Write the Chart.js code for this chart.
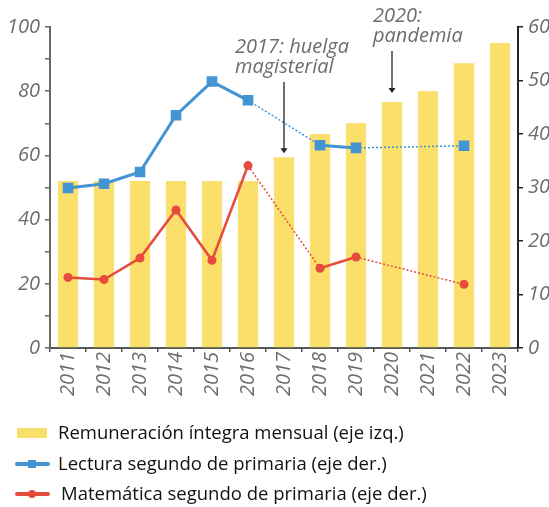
<!DOCTYPE html>
<html lang="es">
<head>
<meta charset="utf-8">
<title>Remuneración y logros</title>
<script src="https://cdn.jsdelivr.net/npm/chart.js@4.4.1/dist/chart.umd.min.js"></script>
<style>
  html, body { margin: 0; padding: 0; background: #fff; overflow: hidden; }
  #wrap { position: relative; width: 565px; height: 400px; }
  #legend { position: absolute; left: 0; top: 0; width: 549px; height: 507px; pointer-events: none;
            font-family: "Open Sans", sans-serif; font-size: 18.5px; color: #111; }
  .item { position: absolute; left: 58px; line-height: 22px; white-space: nowrap; }
  .sw { position: absolute; }
</style>
</head>
<body>
<div id="wrap"><canvas id="chart" width="565" height="400"></canvas></div>
<div id="legend"></div>

<script>
const years = ['2011', '2012', '2013', '2014', '2015', '2016', '2017', '2018', '2019', '2020', '2021', '2022', '2023'];
const remuneracion = [52, 52, 52, 52, 52, 52, 59.4, 66.7, 70, 76.6, 80, 88.7, 95];
const lectura = [29.9, 30.7, 32.9, 43.5, 49.8, 46.3, null, 37.9, 37.4, null, null, 37.8, null];
const matematica = [13.2, 12.8, 16.8, 25.8, 16.4, 34.1, null, 14.9, 17.0, null, null, 11.9, null];

const leftTicks = [0, 20, 40, 60, 80, 100];
const seriesNames = [
  'Remuneración íntegra mensual (eje izq.)',
  'Lectura segundo de primaria (eje der.)',
  'Matemática segundo de primaria (eje der.)'
];
const notas = [
  { year: '2017', lines: ['2017: huelga', 'magisterial'] },
  { year: '2020', lines: ['2020:', 'pandemia'] }
];

const AMARILLO = '#FBDF6B';
const AZUL = '#4394D3';
const ROJO = '#E64B3C';
const GRIS = '#6d6d6d';

// where each note sits relative to its bar (text offset, first baseline, arrow gap)
const notaLayout = {
  '2017': { dx: -49, base: 53, gap: 4 },
  '2020': { dx: -19, base: 22, gap: 9 }
};

const notasPlugin = {
  id: 'notas',
  afterDatasetsDraw(chart) {
    const ctx = chart.ctx;
    const xs = chart.scales.x;
    const ys = chart.scales.y;
    ctx.save();
    notas.forEach(n => {
      const i = years.indexOf(n.year);
      const lay = notaLayout[n.year];
      const px = xs.getPixelForValue(i);
      const barTop = ys.getPixelForValue(remuneracion[i]);

      ctx.font = 'italic 20px "Open Sans"';
      ctx.fillStyle = GRIS;
      ctx.textAlign = 'left';
      ctx.textBaseline = 'alphabetic';
      n.lines.forEach((t, k) => ctx.fillText(t, px + lay.dx, lay.base + k * 20));

      const y0 = lay.base + (n.lines.length - 1) * 20 + 9;
      const y1 = barTop - lay.gap;
      ctx.strokeStyle = '#222';
      ctx.fillStyle = '#222';
      ctx.lineWidth = 1.3;
      ctx.beginPath();
      ctx.moveTo(px, y0);
      ctx.lineTo(px, y1 - 3);
      ctx.stroke();
      ctx.beginPath();
      ctx.moveTo(px - 3.5, y1 - 5);
      ctx.lineTo(px, y1);
      ctx.lineTo(px + 3.5, y1 - 5);
      ctx.closePath();
      ctx.fill();
    });
    ctx.restore();
  }
};

// segments that jump over a missing year are drawn dotted
function dotted(c) {
  return !!(c.p0.skip || c.p1.skip);
}

const tickFont = { family: 'Open Sans', style: 'italic', size: 20 };

new Chart(document.getElementById('chart'), {
  data: {
    labels: years,
    datasets: [
      {
        type: 'line',
        label: seriesNames[1],
        data: lectura,
        yAxisID: 'y1',
        borderColor: AZUL,
        backgroundColor: AZUL,
        borderWidth: 3,
        pointStyle: 'rect',
        pointRadius: 7.5,
        pointBorderWidth: 0,
        spanGaps: true,
        order: 1,
        segment: {
          borderDash: c => dotted(c) ? [2, 2] : undefined,
          borderWidth: c => dotted(c) ? 1.5 : 3
        }
      },
      {
        type: 'line',
        label: seriesNames[2],
        data: matematica,
        yAxisID: 'y1',
        borderColor: ROJO,
        backgroundColor: ROJO,
        borderWidth: 2.5,
        pointStyle: 'circle',
        pointRadius: 4.5,
        pointBorderWidth: 0,
        spanGaps: true,
        order: 2,
        segment: {
          borderDash: c => dotted(c) ? [2, 2] : undefined,
          borderWidth: c => dotted(c) ? 1.5 : 2.5
        }
      },
      {
        type: 'bar',
        label: seriesNames[0],
        data: remuneracion,
        yAxisID: 'y',
        backgroundColor: AMARILLO,
        categoryPercentage: 1,
        barPercentage: 0.56,
        order: 3
      }
    ]
  },
  options: {
    responsive: false,
    animation: false,
    layout: { padding: { top: 27, left: 0, right: 0, bottom: 0 } },
    plugins: { legend: { display: false }, tooltip: { enabled: false } },
    scales: {
      x: {
        grid: { offset: true, drawOnChartArea: false, tickLength: 4, color: '#555', lineWidth: 1.5 },
        border: { color: '#555', width: 2 },
        ticks: { minRotation: 90, maxRotation: 90, padding: 0, font: { family: 'Open Sans', style: 'italic', size: 20 }, color: GRIS },
        afterFit(s) { s.height = 52; }
      },
      y: {
        position: 'left',
        min: 0,
        max: 100,
        grid: { drawOnChartArea: false, tickLength: 5, color: '#666', lineWidth: 1.5 },
        border: { color: '#666', width: 2 },
        ticks: {
          stepSize: 10,
          padding: 5,
          font: tickFont,
          color: GRIS,
          callback: v => leftTicks.includes(v) ? v : ''
        },
        afterFit(s) { s.width = 50; }
      },
      y1: {
        position: 'right',
        min: 0,
        max: 60,
        grid: { drawOnChartArea: false, tickLength: 5, color: '#222', lineWidth: 1.5 },
        border: { color: '#222', width: 2 },
        ticks: { stepSize: 10, padding: 5, font: tickFont, color: GRIS },
        afterFit(s) { s.width = 47; }
      }
    }
  },
  plugins: [notasPlugin]
});

// legend below the chart
const legend = document.getElementById('legend');
const legendRows = [
  { name: seriesNames[0], cy: 433, kind: 'bar', color: AMARILLO },
  { name: seriesNames[1], cy: 464, kind: 'rect', color: AZUL },
  { name: seriesNames[2], cy: 494, kind: 'circle', color: ROJO }
];
legendRows.forEach(r => {
  if (r.kind === 'bar') {
    const b = document.createElement('div');
    b.className = 'sw';
    b.style.cssText = `left:17px;top:${r.cy - 5}px;width:30px;height:10px;background:${r.color}`;
    legend.appendChild(b);
  } else {
    const l = document.createElement('div');
    l.className = 'sw';
    l.style.cssText = `left:15px;top:${r.cy - 2}px;width:35px;height:4px;border-radius:2px;background:${r.color}`;
    legend.appendChild(l);
    const m = document.createElement('div');
    m.className = 'sw';
    const rad = r.kind === 'circle' ? '50%' : '0';
    m.style.cssText = `left:28px;top:${r.cy - 4}px;width:8px;height:8px;border-radius:${rad};background:${r.color}`;
    legend.appendChild(m);
  }
  const t = document.createElement('div');
  t.className = 'item';
  t.style.top = (r.cy - 12) + 'px';
  if (r.kind === 'circle') t.style.left = '61px';
  t.textContent = r.name;
  legend.appendChild(t);
});
</script>
</body>
</html>
